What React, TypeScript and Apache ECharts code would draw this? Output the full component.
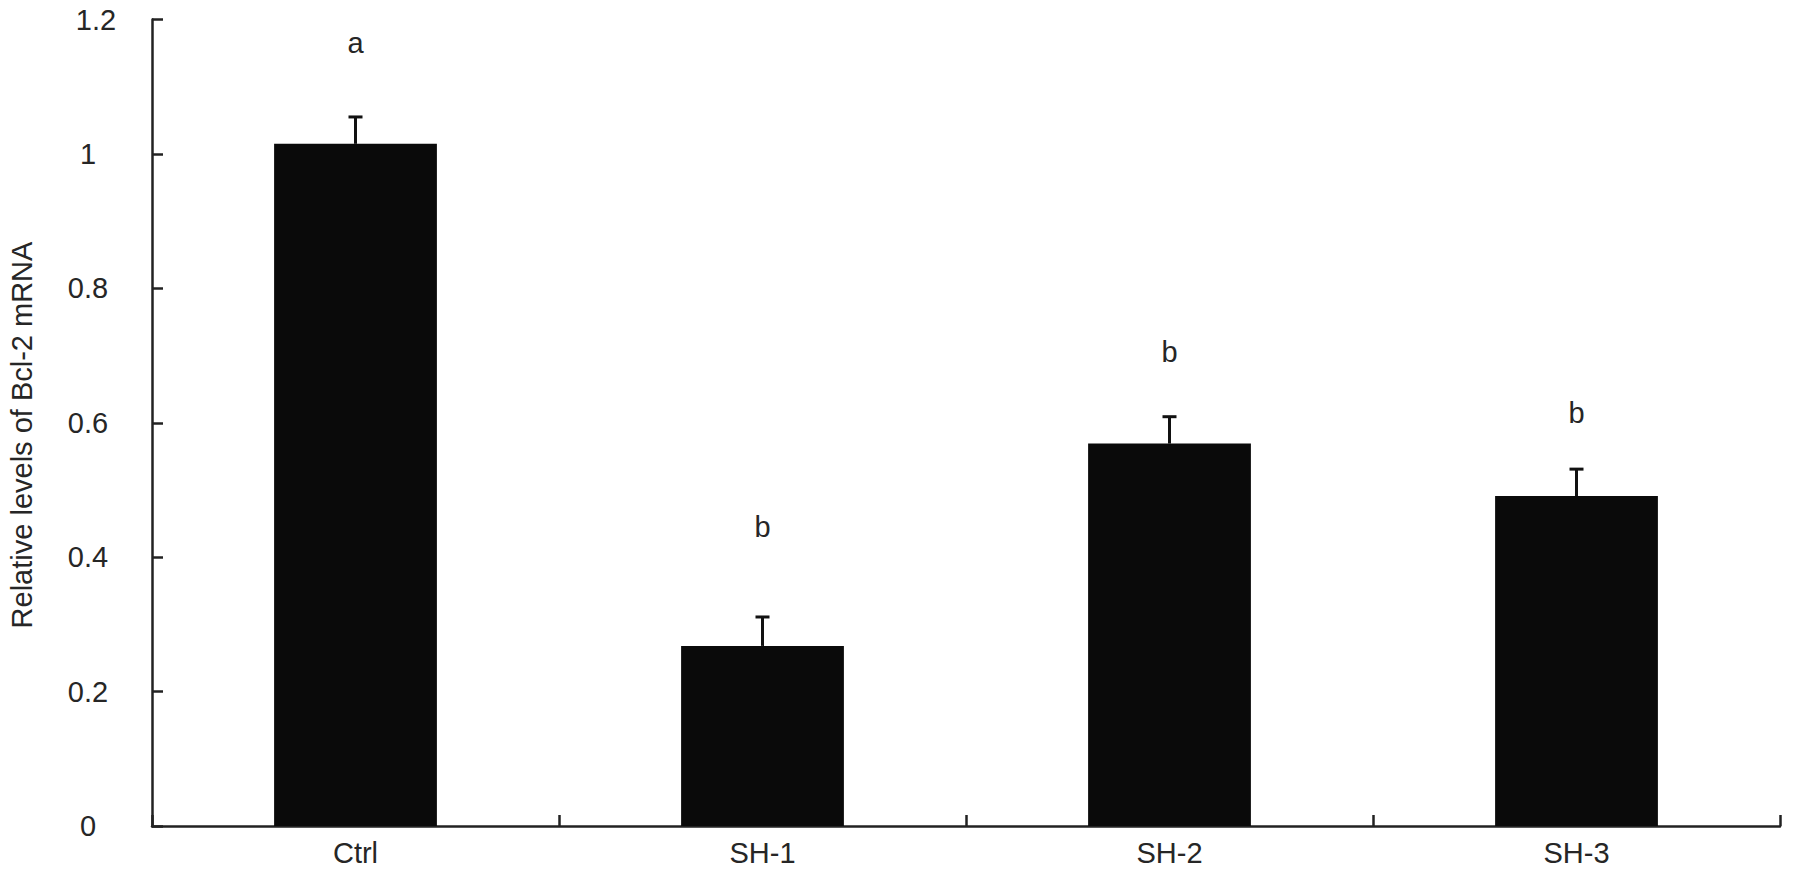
import React, { useEffect, useRef } from "react";
import * as echarts from "echarts";

const categories = ["Ctrl", "SH-1", "SH-2", "SH-3"];
const means = [1.015, 0.268, 0.569, 0.491];
const errors = [0.04, 0.043, 0.04, 0.04];
const letters = ["a", "b", "b", "b"];
const letterY = [1.165, 0.445, 0.705, 0.614];
const yTitle = "Relative levels of Bcl-2 mRNA";

const FONT = "'Liberation Sans', Arial, sans-serif";
const TXT = "#262626";
const FS = 29;

export default function App() {
  const ref = useRef<HTMLDivElement>(null);
  useEffect(() => {
    if (!ref.current) return;
    const chart = echarts.init(ref.current, undefined, { renderer: "svg" });
    chart.setOption({
      animation: false,
      backgroundColor: "#ffffff",
      grid: { left: 152, right: 15, top: 19.5, bottom: 52 },
      xAxis: {
        type: "category",
        data: categories,
        boundaryGap: true,
        axisLine: { show: true, lineStyle: { color: "#222", width: 2.5 } },
        axisTick: { show: true, inside: true, length: 11, lineStyle: { color: "#222", width: 2.5 } },
        axisLabel: { color: TXT, fontFamily: FONT, fontSize: FS, margin: 12 },
        splitLine: { show: false },
      },
      yAxis: {
        type: "value",
        min: 0,
        max: 1.2,
        interval: 0.2,
        axisLine: { show: true, lineStyle: { color: "#222", width: 2.5 } },
        axisTick: { show: true, inside: true, length: 11, lineStyle: { color: "#222", width: 2.5 } },
        axisLabel: {
          color: TXT,
          fontFamily: FONT,
          fontSize: FS,
          margin: 64,
          align: "center",
          formatter: (v: number) => (Math.abs(v - 1.2) < 1e-9 ? "{s|" + v + "}" : String(v)),
          rich: { s: { fontFamily: FONT, fontSize: FS, color: TXT, padding: [0, 0, 0, 16] } },
        },
        splitLine: { show: false },
      },
      graphic: [
        {
          type: "text",
          x: 22,
          y: 435,
          rotation: Math.PI / 2,
          style: {
            text: yTitle,
            fill: TXT,
            font: `${FS}px ${FONT}`,
            textAlign: "center",
            textVerticalAlign: "middle",
          },
        },
      ],
      series: [
        {
          type: "bar",
          data: means,
          barWidth: "40%",
          itemStyle: { color: "#0a0a0a" },
          z: 2,
        },
        {
          type: "custom",
          data: means.map((m, i) => [i, m, m + errors[i]]),
          z: 3,
          renderItem: (params: any, api: any) => {
            const i = api.value(0);
            const lo = api.coord([i, api.value(1)]);
            const hi = api.coord([i, api.value(2)]);
            const half = 7;
            const style = { stroke: "#111", lineWidth: 3, fill: "none" };
            return {
              type: "group",
              children: [
                { type: "line", shape: { x1: lo[0], y1: lo[1], x2: hi[0], y2: hi[1] }, style },
                { type: "line", shape: { x1: hi[0] - half, y1: hi[1], x2: hi[0] + half, y2: hi[1] }, style },
              ],
            };
          },
        },
        {
          type: "custom",
          data: letterY.map((v, i) => [i, v]),
          z: 4,
          renderItem: (params: any, api: any) => {
            const i = api.value(0);
            const p = api.coord([i, api.value(1)]);
            return {
              type: "text",
              x: p[0],
              y: p[1],
              style: {
                text: letters[params.dataIndex],
                fill: TXT,
                font: `${FS}px ${FONT}`,
                textAlign: "center",
                textVerticalAlign: "middle",
              },
            };
          },
        },
      ],
    });
    return () => chart.dispose();
  }, []);
  return (
    <div
      ref={ref}
      style={{ position: "fixed", left: 0, top: 0, width: 1795, height: 878, background: "#fff" }}
    />
  );
}
